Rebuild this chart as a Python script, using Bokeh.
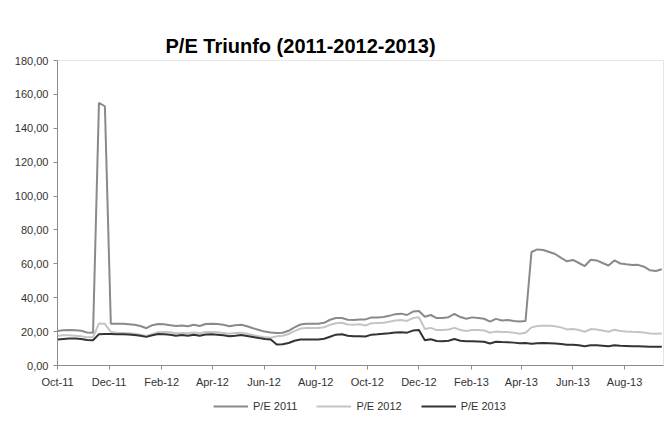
import pandas as pd
from bokeh.plotting import figure
from bokeh.layouts import column
from bokeh.models import (ColumnDataSource, FixedTicker, CustomJSTickFormatter,
                          DatetimeTickFormatter, Range1d, Legend, LegendItem, Title)
from bokeh.embed import file_html
from bokeh.resources import INLINE

start_date = "2011-10-01"
n_weeks = 103

pe_2011 = [20.3, 20.8, 21.0, 20.8, 20.5, 19.5, 19.3, 155.0, 153.0, 24.7,
           24.6, 24.6, 24.4, 24.0, 23.3, 22.0, 23.8, 24.5, 24.3, 23.8,
           23.3, 23.6, 23.2, 24.0, 23.3, 24.5, 24.6, 24.5, 24.0, 23.2,
           23.8, 24.0, 23.2, 22.0, 21.0, 20.0, 19.5, 19.2, 19.3, 20.5,
           22.5, 24.2, 24.7, 24.6, 24.7, 25.2, 27.0, 28.0, 28.0, 27.0,
           26.8, 27.2, 27.2, 28.4, 28.4, 28.6, 29.3, 30.3, 30.6, 29.8,
           31.8, 32.2, 28.8, 29.8, 28.0, 28.0, 28.5, 30.4, 28.6, 27.6,
           28.4, 28.0, 27.6, 25.9, 27.5, 26.6, 26.9, 26.3, 25.9, 26.3,
           67.0, 68.5, 68.2, 67.0, 65.8, 63.5, 61.5, 62.3, 60.5, 58.7,
           62.4, 62.0, 60.5, 59.0, 62.0, 60.2, 59.7, 59.3, 59.4, 58.3,
           56.2, 55.8, 56.8]

pe_2012 = [17.6, 17.8, 17.8, 17.5, 17.2, 16.6, 16.6, 24.8, 24.6, 19.8,
           19.3, 19.2, 19.0, 18.8, 18.2, 17.4, 18.5, 19.6, 19.8, 19.6,
           19.0, 19.2, 19.0, 19.5, 19.0, 19.8, 19.8, 19.6, 19.2, 18.8,
           19.2, 19.4, 18.8, 18.0, 17.2, 16.6, 16.4, 17.2, 17.6, 18.6,
           20.3, 21.8, 22.2, 22.1, 22.2, 22.6, 24.0, 24.9, 25.2, 24.2,
           24.0, 24.3, 23.6, 25.0, 25.1, 25.2, 25.8, 26.6, 26.9, 26.3,
           28.0, 28.5, 21.6, 22.2, 20.9, 21.0, 21.2, 22.2, 21.0, 20.4,
           21.0, 20.9, 20.7, 19.3, 20.0, 19.8, 19.7, 19.4, 18.8, 19.3,
           22.5, 23.3, 23.5, 23.5, 23.1, 22.5, 21.3, 21.6, 20.9, 19.9,
           21.5, 21.3, 20.6, 19.9, 21.1, 20.4, 20.1, 19.9, 19.8, 19.5,
           18.9, 18.8, 18.9]

pe_2013 = [15.4, 15.7, 16.0, 16.0, 15.7, 15.0, 14.9, 18.5, 18.6, 18.6,
           18.5, 18.4, 18.3, 18.0, 17.6, 16.9, 17.8, 18.6, 18.5, 18.2,
           17.6, 18.0, 17.6, 18.2, 17.6, 18.3, 18.5, 18.2, 17.8, 17.3,
           17.6, 18.0, 17.4, 16.8, 16.2, 15.7, 15.4, 12.4, 12.6, 13.3,
           14.6, 15.3, 15.3, 15.3, 15.3, 15.8, 17.0, 18.2, 18.4, 17.6,
           17.2, 17.3, 17.1, 18.2, 18.4, 18.7, 19.0, 19.5, 19.6, 19.4,
           20.6, 21.0, 14.9, 15.5, 14.5, 14.3, 14.6, 15.6, 14.6, 14.3,
           14.3, 14.2, 14.0, 13.0, 14.0, 13.8, 13.7, 13.5, 13.2, 13.3,
           12.9, 13.2, 13.3, 13.2, 13.0, 12.7, 12.2, 12.2, 11.9, 11.4,
           12.0, 12.0, 11.7, 11.4, 12.0, 11.6, 11.5, 11.4, 11.4, 11.2,
           11.0, 11.0, 11.0]

x_tick_dates = ["2011-10-01", "2011-12-01", "2012-02-01", "2012-04-01",
                "2012-06-01", "2012-08-01", "2012-10-01", "2012-12-01",
                "2013-02-01", "2013-04-01", "2013-06-01", "2013-08-01"]
y_ticks = [0, 20, 40, 60, 80, 100, 120, 140, 160, 180]
x_end_date = "2013-09-16"

series_names = ["P/E 2011", "P/E 2012", "P/E 2013"]
series_colors = ["#8a8a8a", "#c4c4c4", "#333333"]

# ---- build ----
dates = pd.date_range(start_date, periods=n_weeks, freq="7D")
src = ColumnDataSource(dict(date=dates, a=pe_2011, b=pe_2012, c=pe_2013))

xr = Range1d(pd.Timestamp(start_date), pd.Timestamp(x_end_date))

p = figure(width=665, height=390,
           output_backend="svg", toolbar_location=None,
           x_axis_type="datetime", x_range=xr, y_range=Range1d(0, 180),
           min_border_left=57, min_border_right=2, min_border_top=60,
           min_border_bottom=24)

p.title = Title(text="P/E Triunfo (2011-2012-2013)", align="left", offset=108,
                text_font="Liberation Sans", text_font_size="20px",
                text_font_style="bold", text_color="#000000", standoff=7)

for col, color in zip(["a", "b", "c"], series_colors):
    p.line("date", col, source=src, line_color=color, line_width=2)

p.xgrid.visible = False
p.ygrid.visible = False
p.outline_line_color = "#e6e6e6"
p.outline_line_width = 1

tick_ms = [pd.Timestamp(d).value // 10**6 for d in x_tick_dates]
p.xaxis.ticker = FixedTicker(ticks=tick_ms)
p.xaxis.formatter = DatetimeTickFormatter(days="%b-%y", months="%b-%y", years="%b-%y")
p.yaxis.ticker = FixedTicker(ticks=y_ticks)
p.yaxis.formatter = CustomJSTickFormatter(code="return tick.toFixed(2).replace('.', ',');")

for ax in (p.xaxis[0], p.yaxis[0]):
    ax.axis_line_color = "#8c8c8c"
    ax.major_tick_line_color = "#8c8c8c"
    ax.minor_tick_line_color = None
    ax.major_tick_in = 0
    ax.major_tick_out = 4
    ax.major_label_text_font = "Liberation Sans"
    ax.major_label_text_font_size = "11px"
    ax.major_label_text_color = "#333333"
p.xaxis.major_label_standoff = 6
p.yaxis.major_label_standoff = 5

# ---- legend strip below the chart (same series, drawn outside its visible range) ----
p2 = figure(width=665, height=35, output_backend="svg", toolbar_location=None,
            x_axis_type="datetime", x_range=xr, y_range=Range1d(1000, 1001),
            x_axis_location=None, y_axis_location=None,
            min_border=0, min_border_left=0, min_border_right=0,
            min_border_top=0, min_border_bottom=0)
p2.xgrid.visible = False
p2.ygrid.visible = False
p2.outline_line_color = None

leg_renderers = []
for col, color in zip(["a", "b", "c"], series_colors):
    leg_renderers.append(p2.line("date", col, source=src, line_color=color, line_width=2))

legend = Legend(items=[LegendItem(label=n, renderers=[r]) for n, r in zip(series_names, leg_renderers)],
                orientation="horizontal", location=(156, 12),
                label_text_font="Liberation Sans", label_text_font_size="11px",
                label_text_color="#333333", glyph_width=35, glyph_height=14,
                label_height=14, label_standoff=5,
                spacing=19, border_line_color=None, background_fill_alpha=0,
                padding=2, margin=0)
p2.add_layout(legend, "center")

layout = column(p, p2, spacing=0)
open("out.html", "w").write(file_html(layout, INLINE))
